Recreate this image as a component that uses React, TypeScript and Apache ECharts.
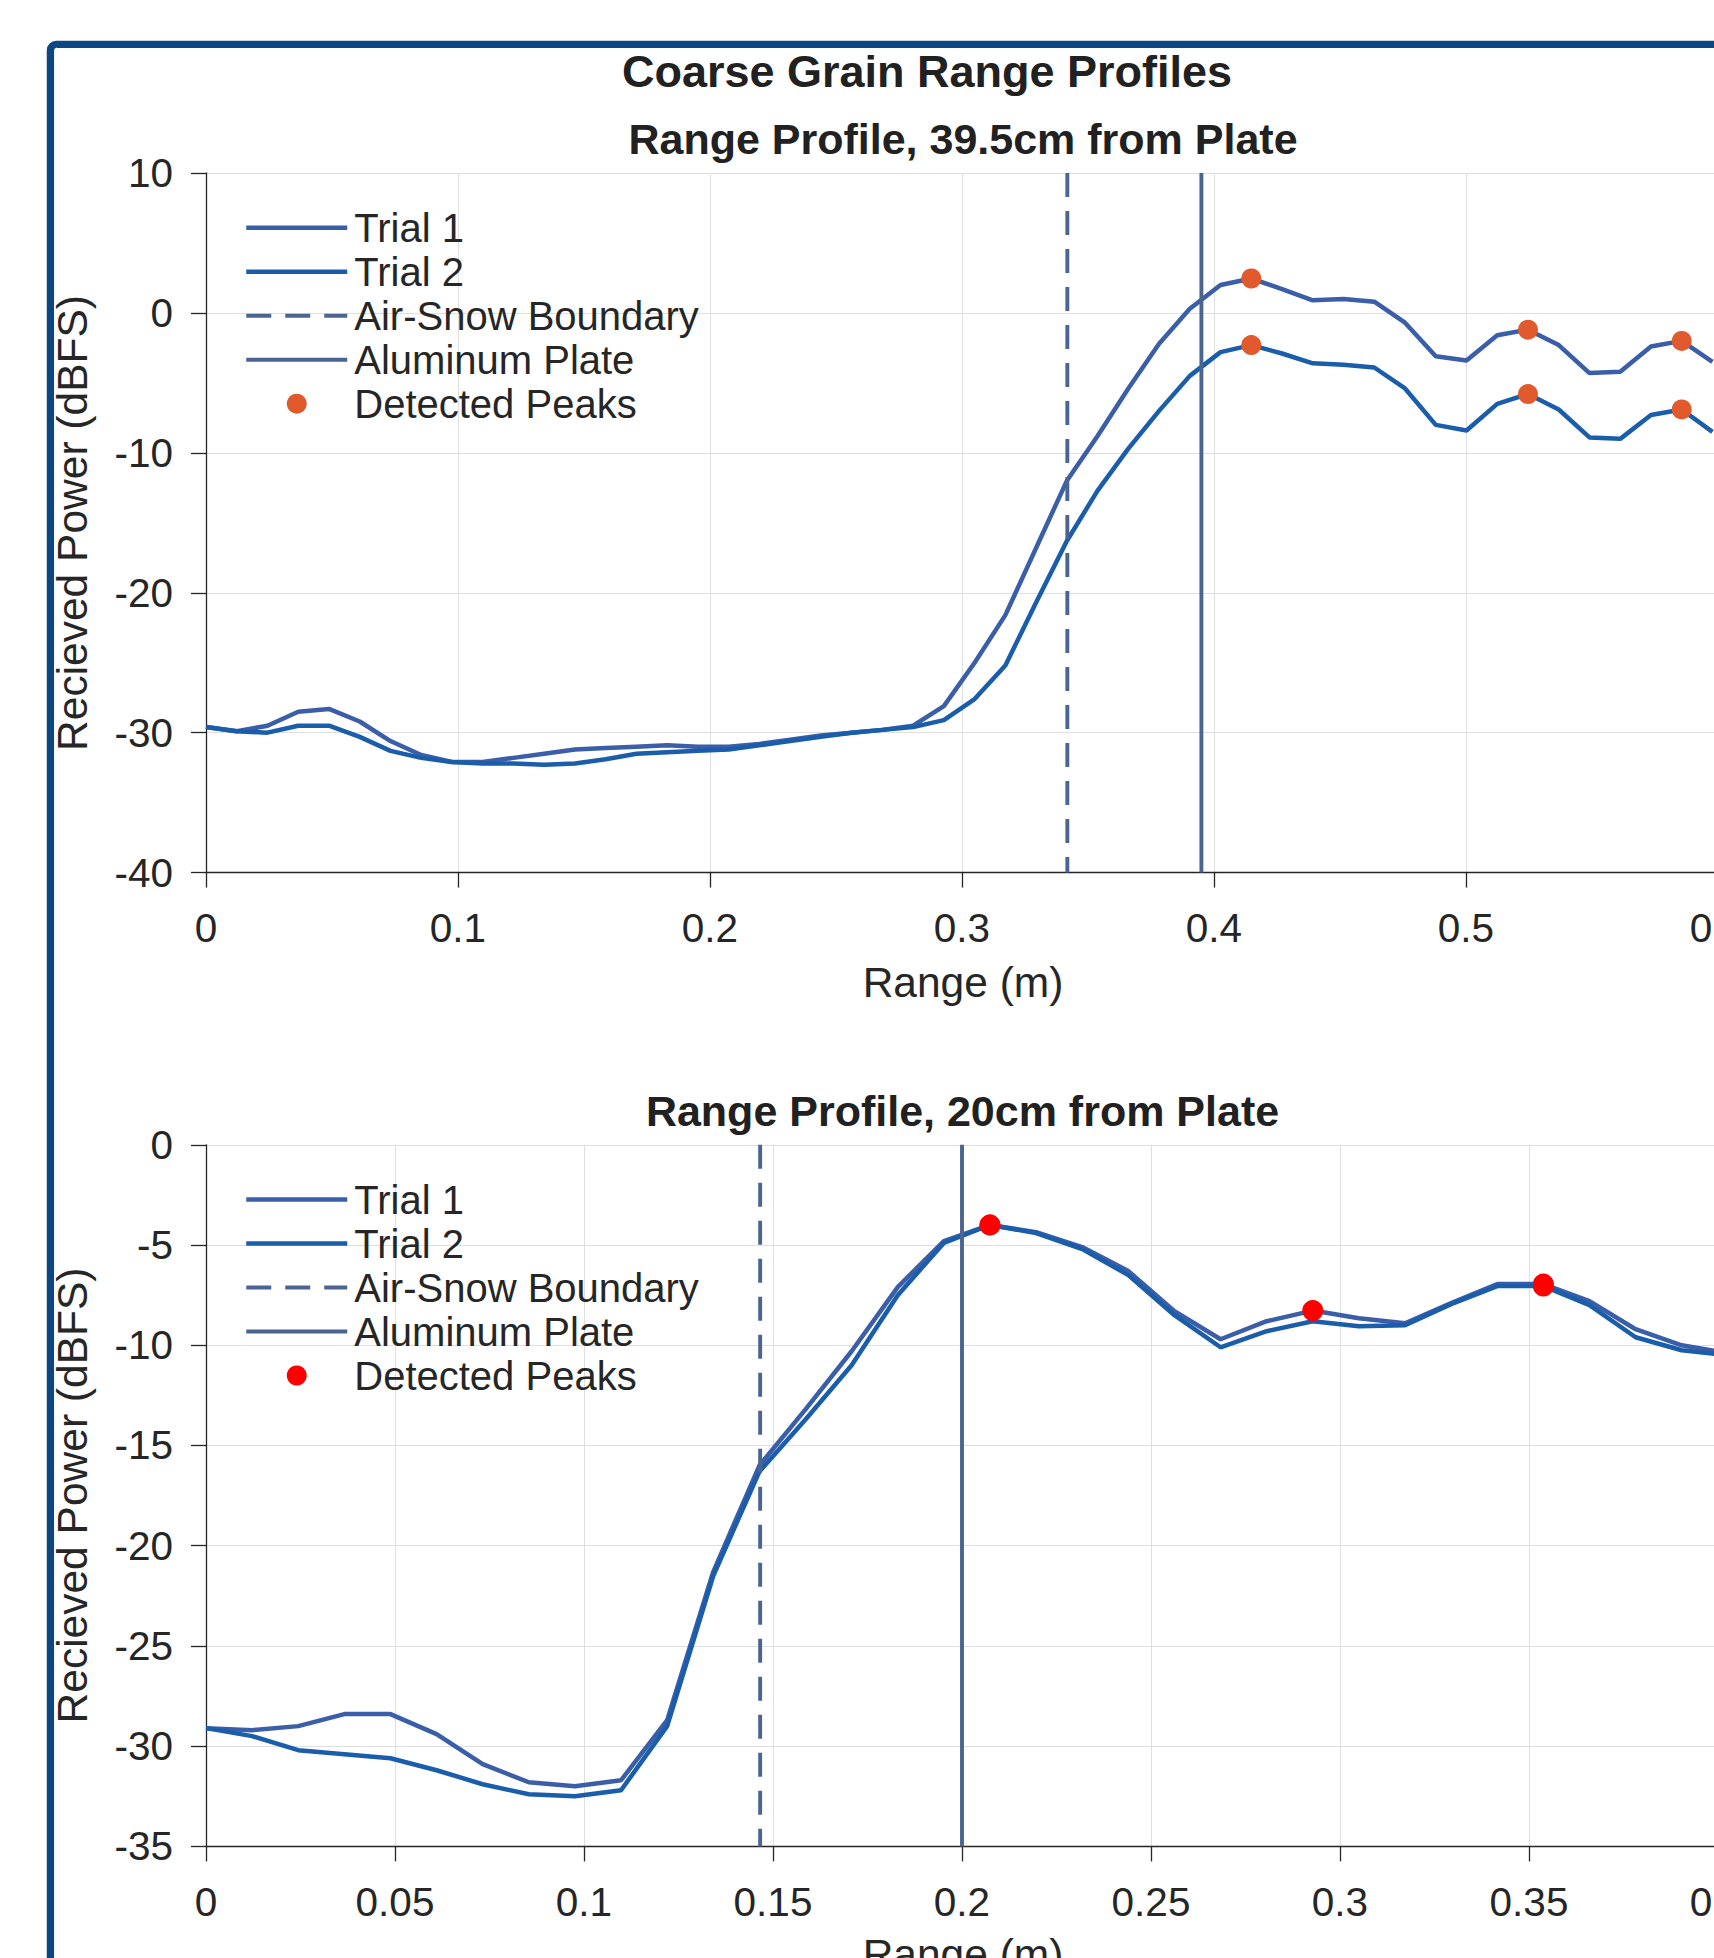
import React, { useEffect, useRef } from "react";
import * as echarts from "echarts";

const FONT = "'Liberation Sans', Arial, Helvetica, sans-serif";
const AX = "#262626";
const GRID = "#dfdfdf";
const C_T1 = "#3b5ea8";
const C_T2 = "#1a5dab";
const C_BOUND = "#4c6590";
const C_PLATE = "#4b6490";
const C_PEAK_TOP = "#e05a2e";
const C_PEAK_BOT = "#ff0000";
const W_TRIAL = 4.5;
const W_VERT = 3.9;

// Range bins (m)
const rangeBins = [
  0, 0.0122, 0.0244, 0.0366, 0.0488, 0.061, 0.0732, 0.0854, 0.0976, 0.1098,
  0.122, 0.1342, 0.1464, 0.1586, 0.1708, 0.183, 0.1952, 0.2074, 0.2196, 0.2318,
  0.244, 0.2562, 0.2684, 0.2806, 0.2928, 0.305, 0.3172, 0.3294, 0.3416, 0.3538,
  0.366, 0.3782, 0.3904, 0.4026, 0.4148, 0.427, 0.4392, 0.4514, 0.4636, 0.4758,
  0.488, 0.5002, 0.5124, 0.5246, 0.5368, 0.549, 0.5612, 0.5734, 0.5856, 0.5978,
];

// Panel 1: 39.5cm from plate
const topTrial1 = [
  -29.6, -29.9, -29.5, -28.5, -28.3, -29.2, -30.6, -31.6, -32.1, -32.1,
  -31.8, -31.5, -31.2, -31.1, -31.0, -30.9, -31.0, -31.0, -30.8, -30.5,
  -30.2, -30.0, -29.8, -29.5, -28.1, -25.0, -21.6, -16.8, -12.0, -8.8,
  -5.4, -2.2, 0.3, 2.0, 2.46, 1.7, 0.9, 1.0, 0.8, -0.7,
  -3.1, -3.4, -1.6, -1.2, -2.3, -4.3, -4.2, -2.4, -2.0, -3.5,
];
const topTrial2 = [
  -29.6, -29.9, -30.0, -29.5, -29.5, -30.3, -31.3, -31.8, -32.1, -32.2,
  -32.2, -32.3, -32.2, -31.9, -31.5, -31.4, -31.3, -31.2, -30.9, -30.6,
  -30.3, -30.0, -29.8, -29.6, -29.1, -27.6, -25.2, -20.7, -16.3, -12.7,
  -9.7, -7.0, -4.5, -2.8, -2.3, -2.9, -3.6, -3.7, -3.9, -5.4,
  -8.0, -8.4, -6.5, -5.8, -6.9, -8.9, -9.0, -7.3, -6.9, -8.5,
];
const topPeakIdx1 = [34, 43, 48];
const topPeakIdx2 = [34, 43, 48];
const topAirSnow = 0.3418;
const topPlate = 0.395;
const topXLimits = [0, 0.6];
const topXStep = 0.1;
const topYLimits = [-40, 10];
const topYStep = 10;

// Panel 2: 20cm from plate
const botTrial1 = [
  -29.1, -29.2, -29.0, -28.4, -28.4, -29.4, -30.9, -31.8, -32.0, -31.7,
  -28.7, -21.3, -16.0, -13.2, -10.3, -7.1, -4.8, -4.0, -4.36, -5.1,
  -6.3, -8.3, -9.7, -8.8, -8.27, -8.65, -8.9, -7.9, -6.95, -6.95,
  -7.8, -9.2, -10.0, -10.4,
];
const botTrial2 = [
  -29.1, -29.5, -30.2, -30.4, -30.6, -31.2, -31.9, -32.4, -32.5, -32.2,
  -29.0, -21.5, -16.3, -13.7, -11.0, -7.5, -4.9, -4.0, -4.4, -5.2,
  -6.5, -8.5, -10.1, -9.3, -8.8, -9.05, -9.0, -7.95, -7.05, -7.05,
  -8.0, -9.6, -10.25, -10.5,
];
const botPeakIdx1 = [17, 24, 29];
const botPeakIdx2 = [17, 29];
const botAirSnow = 0.1466;
const botPlate = 0.2;
const botXLimits = [0, 0.4];
const botXStep = 0.05;
const botYLimits = [-35, 0];
const botYStep = 5;

const legendNames = ["Trial 1", "Trial 2", "Air-Snow Boundary", "Aluminum Plate", "Detected Peaks"];

function xAxisOf(gridIndex: number, lim: number[], step: number) {
  return {
    type: "value",
    gridIndex,
    min: lim[0],
    max: lim[1],
    interval: step,
    axisLine: { show: true, onZero: false, lineStyle: { color: AX, width: 1.3 } },
    axisTick: { show: true, inside: false, length: 15, lineStyle: { color: AX, width: 1.3 } },
    axisLabel: { show: true, color: AX, fontSize: 40.5, fontFamily: FONT, margin: 35, showMinLabel: true, showMaxLabel: true, hideOverlap: false },
    splitLine: { show: true, lineStyle: { color: GRID, width: 1 } },
  };
}

function yAxisOf(gridIndex: number, lim: number[], step: number) {
  return {
    type: "value",
    gridIndex,
    min: lim[0],
    max: lim[1],
    interval: step,
    axisLine: { show: true, onZero: false, lineStyle: { color: AX, width: 1.3 } },
    axisTick: { show: true, inside: false, length: 15, lineStyle: { color: AX, width: 1.3 } },
    axisLabel: { show: true, color: AX, fontSize: 40.5, fontFamily: FONT, margin: 33, showMinLabel: true, showMaxLabel: true },
    splitLine: { show: true, lineStyle: { color: GRID, width: 1 } },
  };
}

function panelSeries(
  idx: number,
  t1: number[],
  t2: number[],
  p1: number[],
  p2: number[],
  airSnow: number,
  plate: number,
  yLim: number[],
  peakColor: string,
  peakSize: number
) {
  const xs = rangeBins.slice(0, t1.length);
  const common = { xAxisIndex: idx, yAxisIndex: idx, symbol: "none", showSymbol: false, silent: true };
  return [
    {
      ...common, name: "Trial 1", type: "line", z: 3,
      data: xs.map((x, i) => [x, t1[i]]),
      lineStyle: { color: C_T1, width: W_TRIAL }, itemStyle: { color: C_T1 },
    },
    {
      ...common, name: "Trial 2", type: "line", z: 3,
      data: xs.map((x, i) => [x, t2[i]]),
      lineStyle: { color: C_T2, width: W_TRIAL }, itemStyle: { color: C_T2 },
    },
    {
      ...common, name: "Air-Snow Boundary", type: "line", z: 3,
      data: [[airSnow, yLim[1]], [airSnow, yLim[0]]],
      lineStyle: { color: C_BOUND, width: W_VERT, type: [24, 14] }, itemStyle: { color: C_BOUND },
    },
    {
      ...common, name: "Aluminum Plate", type: "line", z: 3,
      data: [[plate, yLim[1]], [plate, yLim[0]]],
      lineStyle: { color: C_PLATE, width: W_VERT }, itemStyle: { color: C_PLATE },
    },
    {
      xAxisIndex: idx, yAxisIndex: idx, silent: true,
      name: "Detected Peaks", type: "scatter", z: 5, symbol: "circle", symbolSize: peakSize,
      data: [
        ...p1.map((i) => [xs[i], t1[i]]),
        ...p2.map((i) => [xs[i], t2[i]]),
      ],
      itemStyle: { color: peakColor, opacity: 1 },
    },
  ];
}

const HIDDEN_SYMBOL = { color: "rgba(0,0,0,0)", borderWidth: 0, opacity: 0 };

function legendOf(top: number, peakColor: string) {
  return {
    orient: "vertical",
    left: 244,
    top,
    padding: 0,
    itemGap: 0,
    itemWidth: 101,
    itemHeight: 20,
    selectedMode: false,
    textStyle: { fontSize: 40, fontFamily: FONT, color: AX, lineHeight: 44, padding: [0, 0, 0, 2] },
    data: legendNames.map((n) =>
      n === "Detected Peaks"
        ? { name: n, icon: "circle", itemStyle: { color: peakColor } }
        : n === "Trial 1"
        ? { name: n, itemStyle: HIDDEN_SYMBOL, lineStyle: { color: C_T1, width: W_TRIAL } }
        : n === "Trial 2"
        ? { name: n, itemStyle: HIDDEN_SYMBOL, lineStyle: { color: C_T2, width: W_TRIAL } }
        : n === "Air-Snow Boundary"
        ? { name: n, itemStyle: HIDDEN_SYMBOL, lineStyle: { color: C_BOUND, width: W_VERT, type: [25, 14] } }
        : { name: n, itemStyle: HIDDEN_SYMBOL, lineStyle: { color: C_PLATE, width: W_VERT } }
    ),
  };
}

function textEl(text: string, x: number, y: number, size: number, bold: boolean, rotation = 0) {
  return {
    type: "text",
    x,
    y,
    rotation,
    silent: true,
    z: 50,
    style: {
      text,
      fontSize: size,
      fontWeight: bold ? "bold" : "normal",
      fontFamily: FONT,
      fill: bold ? "#212121" : AX,
      textAlign: "center",
      textVerticalAlign: "middle",
    },
  };
}

const option = {
  animation: false,
  backgroundColor: "#ffffff",
  textStyle: { fontFamily: FONT },
  grid: [
    { left: 206, top: 173, width: 1512, height: 699.6, outerBoundsMode: "none", containLabel: false },
    { left: 206, top: 1144.8, width: 1512, height: 701.6, outerBoundsMode: "none", containLabel: false },
  ],
  xAxis: [xAxisOf(0, topXLimits, topXStep), xAxisOf(1, botXLimits, botXStep)],
  yAxis: [yAxisOf(0, topYLimits, topYStep), yAxisOf(1, botYLimits, botYStep)],
  legend: [legendOf(205.7, C_PEAK_TOP), legendOf(1177.5, C_PEAK_BOT)],
  series: [
    ...panelSeries(0, topTrial1, topTrial2, topPeakIdx1, topPeakIdx2, topAirSnow, topPlate, topYLimits, C_PEAK_TOP, 20),
    ...panelSeries(1, botTrial1, botTrial2, botPeakIdx1, botPeakIdx2, botAirSnow, botPlate, botYLimits, C_PEAK_BOT, 21),
  ],
  graphic: [
    {
      type: "rect",
      silent: true,
      z: 100,
      shape: { x: 50.4, y: 44.4, width: 3000, height: 3000, r: 6 },
      style: { fill: "none", stroke: "#0d4782", lineWidth: 7.3 },
    },
    textEl("Coarse Grain Range Profiles", 927, 71.5, 45, true),
    textEl("Range Profile, 39.5cm from Plate", 963, 138.5, 43, true),
    textEl("Range Profile, 20cm from Plate", 962.5, 1111, 43, true),
    textEl("Range (m)", 963, 982.5, 42.5, false),
    textEl("Range (m)", 963, 1954.5, 42.5, false),
    textEl("Recieved Power (dBFS)", 72, 523, 42.5, false, Math.PI / 2),
    textEl("Recieved Power (dBFS)", 72, 1495.5, 42.5, false, Math.PI / 2),
  ],
};

export default function App() {
  const ref = useRef<HTMLDivElement>(null);
  useEffect(() => {
    document.body.style.margin = "0";
    document.body.style.overflow = "hidden";
    const chart = echarts.init(ref.current!, null, { renderer: "svg" });
    chart.setOption(option as any);
    return () => chart.dispose();
  }, []);
  return (
    <div
      ref={ref}
      style={{ position: "absolute", left: 0, top: 0, width: 1714, height: 1958, overflow: "hidden", background: "#ffffff" }}
    />
  );
}
